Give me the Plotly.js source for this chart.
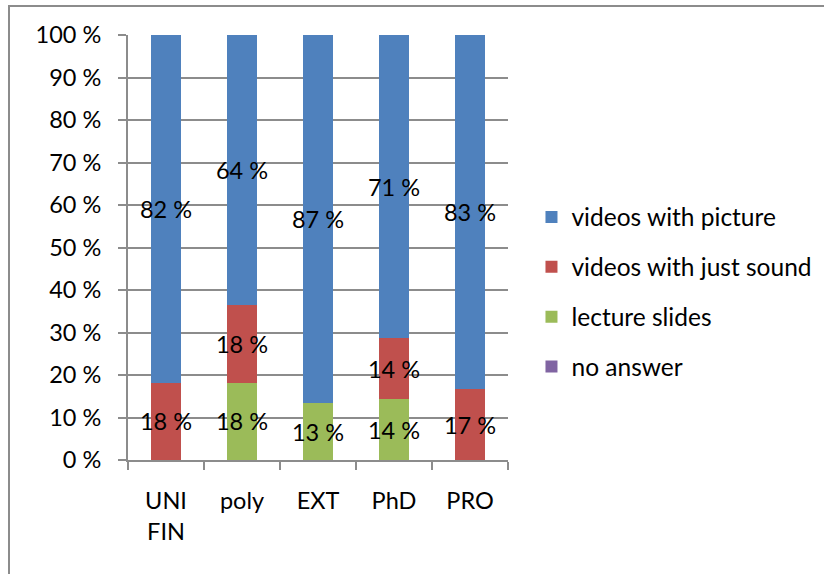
<!DOCTYPE html>
<html>
<head>
<meta charset="utf-8">
<script src="https://cdn.plot.ly/plotly-3.0.1.min.js"></script>
<style>
html,body{margin:0;padding:0;background:#fff;}
#wrap{position:relative;width:824px;height:574px;overflow:hidden;}
#chart{position:absolute;left:0;top:0;width:824px;height:574px;}
#frame{position:absolute;left:8px;top:5px;width:900px;height:700px;border-left:2px solid #8c8c8c;border-top:2px solid #8c8c8c;pointer-events:none;}
</style>
</head>
<body>
<div id="wrap"><div id="chart"></div><div id="frame"></div></div>
<script>
var categories = ["UNI<br>FIN", "poly", "EXT", "PhD", "PRO"];
var noAnswer = [0, 0, 0, 0, 0];
var lectureSlides = [0, 18.2, 13.3, 14.3, 0];
var videosSound = [18.2, 18.2, 0, 14.3, 16.7];
var videosPicture = [81.8, 63.6, 86.7, 71.4, 83.3];
var yTicks = [0, 10, 20, 30, 40, 50, 60, 70, 80, 90, 100];

var FONT = "Lato, 'Open Sans', sans-serif";
var FS = 24.5;
var TFS = 23.5;
function labels(arr){ return arr.map(function(v){ return v > 0 ? Math.round(v) + " %" : ""; }); }
function mk(name, vals, color, rank){
  return {
    type: "bar", name: name, x: categories, y: vals,
    text: labels(vals), textposition: "inside", insidetextanchor: "middle",
    textangle: 0, constraintext: "none", cliponaxis: false,
    textfont: {family: FONT, size: TFS, color: "#000"},
    insidetextfont: {family: FONT, size: TFS, color: "#000"},
    marker: {color: color, line: {width: 0}},
    legendgroup: "g" + rank, legendrank: rank, hoverinfo: "none"
  };
}
var data = [
  mk("no answer", noAnswer, "#8064A2", 4),
  mk("lecture slides", lectureSlides, "#9BBB59", 3),
  mk("videos with just sound", videosSound, "#C0504D", 2),
  mk("videos with picture", videosPicture, "#4F81BD", 1)
];
var layout = {
  width: 824, height: 574,
  margin: {l: 128, r: 316, t: 35, b: 114, pad: 0, autoexpand: false},
  paper_bgcolor: "#fff", plot_bgcolor: "#fff",
  barmode: "stack", bargap: 0.6,
  font: {family: FONT, size: FS, color: "#000"},
  showlegend: true,
  legend: {xref: "container", yref: "container", x: 0.645, xanchor: "left", y: 1 - 292/574, yanchor: "middle",
           traceorder: "grouped", tracegroupgap: 15,
           font: {family: FONT, size: FS, color: "#000"},
           itemwidth: 30, bgcolor: "rgba(0,0,0,0)"},
  xaxis: {type: "category", tickson: "boundaries", ticks: "outside", ticklen: 8,
          tickcolor: "#8c8c8c", tickwidth: 2, showline: true, linecolor: "#8c8c8c", linewidth: 2,
          showgrid: false, tickfont: {family: FONT, size: TFS, color: "#000"},
          ticklabelstandoff: 19, fixedrange: true},
  yaxis: {range: [0, 100], tickvals: yTicks, ticktext: yTicks.map(function(v){return v + " %";}),
          ticks: "outside", ticklen: 8, tickcolor: "#8c8c8c", tickwidth: 2,
          showline: true, linecolor: "#8c8c8c", linewidth: 2,
          showgrid: true, gridcolor: "#8c8c8c", gridwidth: 2, zeroline: false,
          tickfont: {family: FONT, size: TFS, color: "#000"}, ticklabelstandoff: 12, fixedrange: true}
};
Plotly.newPlot("chart", data, layout, {displayModeBar: false, staticPlot: true});
</script>
</body>
</html>
